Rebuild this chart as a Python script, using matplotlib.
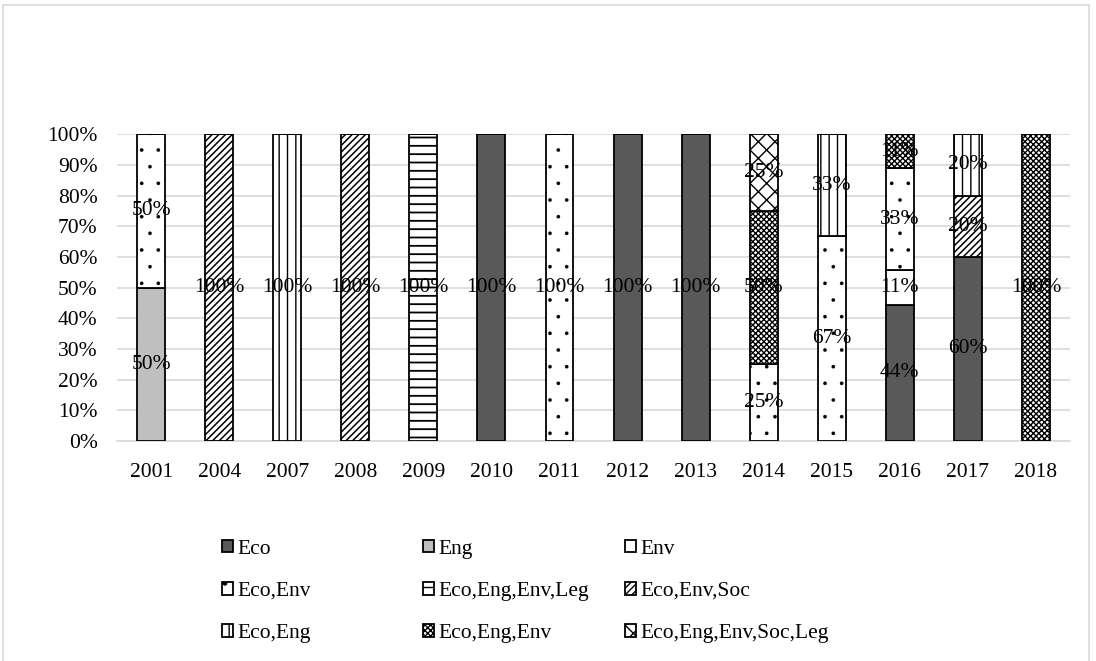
import numpy as np
import matplotlib
matplotlib.use('Agg')
import matplotlib.pyplot as plt
from matplotlib.patches import Rectangle

plt.rcParams['font.family'] = ['Liberation Serif', 'DejaVu Serif']

years = ['2001', '2004', '2007', '2008', '2009', '2010', '2011',
         '2012', '2013', '2014', '2015', '2016', '2017', '2018']

# share of each category per year (fraction of papers)
eco         = [0, 0, 0, 0, 0, 1, 0, 1, 1, 0, 0, 4/9, 0.6, 0]
eng         = [0.5, 0, 0, 0, 0, 0, 0, 0, 0, 0, 0, 0, 0, 0]
env         = [0, 0, 0, 0, 0, 0, 0, 0, 0, 0, 0, 1/9, 0, 0]
eco_env     = [0.5, 0, 0, 0, 0, 0, 1, 0, 0, 0.25, 2/3, 3/9, 0, 0]
eco_eng_env_leg = [0, 0, 0, 0, 1, 0, 0, 0, 0, 0, 0, 0, 0, 0]
eco_env_soc = [0, 1, 0, 1, 0, 0, 0, 0, 0, 0, 0, 0, 0.2, 0]
eco_eng     = [0, 0, 1, 0, 0, 0, 0, 0, 0, 0, 1/3, 0, 0.2, 0]
eco_eng_env = [0, 0, 0, 0, 0, 0, 0, 0, 0, 0.5, 0, 1/9, 0, 1]
eco_eng_env_soc_leg = [0, 0, 0, 0, 0, 0, 0, 0, 0, 0.25, 0, 0, 0, 0]

# name, values, face colour, hatch, hatch linewidth
series = [
    ('Eco', eco, '#595959', None, 1.0),
    ('Eng', eng, '#bfbfbf', None, 1.0),
    ('Env', env, 'white', None, 1.0),
    ('Eco,Env', eco_env, 'white', '.', 0.2),
    ('Eco,Eng,Env,Leg', eco_eng_env_leg, 'white', '--', 1.3),
    ('Eco,Env,Soc', eco_env_soc, 'white', '/////', 1.1),
    ('Eco,Eng', eco_eng, 'white', '||', 1.0),
    ('Eco,Eng,Env', eco_eng_env, 'white', 'xxxxxx', 1.0),
    ('Eco,Eng,Env,Soc,Leg', eco_eng_env_soc_leg, 'white', 'xx', 1.0),
]

FS = 15.5

fig = plt.figure(figsize=(10.96, 6.61), dpi=100)
ax = fig.add_axes([0.1068, 0.333, 0.8695, 0.464])

x = np.arange(len(years))
bottom = np.zeros(len(years))
handles = []
for name, vals, col, hatch, hlw in series:
    vals = np.array(vals, dtype=float)
    with plt.rc_context({'hatch.linewidth': hlw}):
        bars = ax.bar(x, vals, 0.41, bottom=bottom, color=col, edgecolor='black',
                      linewidth=1.3, hatch=hatch, label=name, zorder=3)
    handles.append(bars)
    for xi, v, b in zip(x, vals, bottom):
        if v > 0:
            ax.text(xi, b + v / 2, f'{round(v * 100):.0f}%', ha='center',
                    va='center', fontsize=FS, zorder=5)
    bottom += vals

ax.set_xlim(-0.5, len(years) - 0.5)
ax.set_ylim(0, 1)
ticks = np.arange(0, 1.01, 0.1)
ax.set_yticks(ticks)
ax.set_yticklabels([f'{int(round(t * 100))}%' for t in ticks])
ax.set_xticks(x)
ax.set_xticklabels(years)
ax.tick_params(length=0, labelsize=FS)
ax.tick_params(axis='x', pad=16)
ax.tick_params(axis='y', pad=14)
ax.grid(axis='y', color='#d9d9d9', linewidth=1.2, zorder=0)
ax.set_axisbelow(True)
for s in ['top', 'right', 'left']:
    ax.spines[s].set_visible(False)
ax.spines['bottom'].set_color('#d9d9d9')
ax.spines['bottom'].set_linewidth(1.2)

# three legend columns at fixed positions, entries read row-wise
labels = [s[0] for s in series]
col_x = [222, 423, 625]
for c in range(3):
    idx = [c, c + 3, c + 6]
    leg = fig.legend([handles[i] for i in idx], [labels[i] for i in idx],
                     loc='upper left', bbox_to_anchor=(col_x[c] / 1096, 1 - 540 / 661),
                     frameon=False, fontsize=FS, handlelength=0.5, handleheight=0.5,
                     handletextpad=0.2, labelspacing=1.07, borderpad=0,
                     borderaxespad=0)

fig.patches.append(Rectangle((0.003, -0.01), 0.991, 1.003, transform=fig.transFigure,
                             fill=False, edgecolor='#d9d9d9', linewidth=1.2))

fig.savefig('out.png', dpi=100)
